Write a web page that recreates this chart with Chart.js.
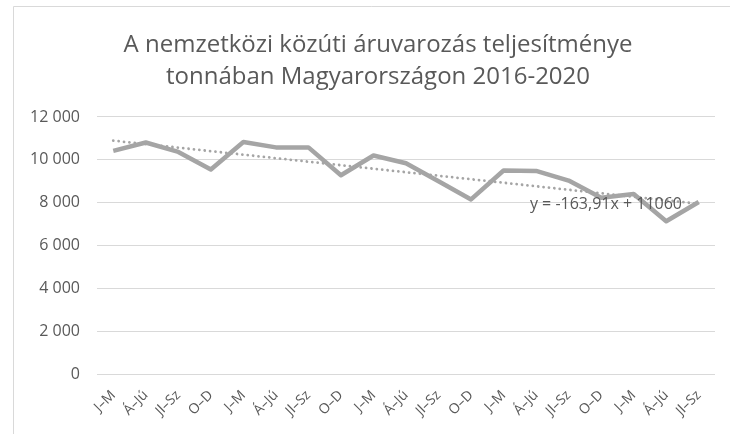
<!DOCTYPE html>
<html>
<head>
<meta charset="utf-8">
<script src="https://cdn.jsdelivr.net/npm/chart.js@4.4.1/dist/chart.umd.min.js"></script>
<style>
  html, body { margin: 0; padding: 0; background: #fff; }
  #wrap { width: 730px; height: 434px; }
</style>
</head>
<body>
<div id="wrap"><canvas id="chart" width="730" height="434"></canvas></div>
<script>
// quarterly periods 2016 Q1 .. 2020 Q3
const quarters = ['J–M', 'Á–Jú', 'Jl–Sz', 'O–D',
                  'J–M', 'Á–Jú', 'Jl–Sz', 'O–D',
                  'J–M', 'Á–Jú', 'Jl–Sz', 'O–D',
                  'J–M', 'Á–Jú', 'Jl–Sz', 'O–D',
                  'J–M', 'Á–Jú', 'Jl–Sz'];
const tonnes = [10420, 10810, 10370, 9550,
                10830, 10580, 10580, 9280,
                10200, 9840, 9000, 8150,
                9500, 9480, 9030, 8230,
                8400, 7130, 8030];
const yTicks = [0, 2000, 4000, 6000, 8000, 10000, 12000];

// linear trend as printed on the chart
const trendSlope = -163.91;
const trendIntercept = 11060;
const trendLabel = 'y = -163,91x + 11060';
const trend = quarters.map((q, i) => trendIntercept + trendSlope * (i + 1));

const grey = '#a5a5a5';
const textGrey = '#595959';
const font = "'Open Sans', sans-serif";

// plot box: left edge 97, right edge 715, bottom 374
const padLeft = 27;
const plotLeft = 97;
const plotRight = 715;
const plotBottom = 374;

const frame = {
  id: 'frame',
  beforeDraw(chart) {
    const c = chart.ctx;
    c.save();
    c.strokeStyle = '#d9d9d9';
    c.lineWidth = 1;
    c.beginPath();
    c.moveTo(730, 6.5);
    c.lineTo(13.5, 6.5);
    c.lineTo(13.5, 434);
    c.stroke();
    c.restore();
  }
};

const trendText = {
  id: 'trendText',
  afterDatasetsDraw(chart) {
    const c = chart.ctx;
    const a = chart.chartArea;
    c.save();
    c.font = '16px ' + font;
    c.fillStyle = textGrey;
    c.textAlign = 'right';
    c.textBaseline = 'middle';
    c.fillText(trendLabel, a.right - 33, chart.scales.y.getPixelForValue(7930));
    c.restore();
  }
};

new Chart(document.getElementById('chart'), {
  type: 'line',
  data: {
    labels: quarters,
    datasets: [
      {
        data: tonnes,
        borderColor: grey,
        borderWidth: 4.5,
        borderJoinStyle: 'round',
        pointRadius: 0,
        tension: 0,
        order: 2
      },
      {
        data: trend,
        borderColor: grey,
        borderWidth: 2.8,
        borderDash: [0.01, 5.4],
        borderCapStyle: 'round',
        pointRadius: 0,
        tension: 0,
        order: 1
      }
    ]
  },
  options: {
    responsive: false,
    animation: false,
    devicePixelRatio: 1,
    layout: { padding: { left: padLeft, right: 1, top: 0, bottom: 0 } },
    plugins: {
      legend: { display: false },
      tooltip: { enabled: false },
      title: {
        display: true,
        text: ['A nemzetközi közúti áruvarozás teljesítménye', 'tonnában Magyarországon 2016-2020'],
        color: textGrey,
        font: { family: font, size: 24, weight: 'normal', lineHeight: 1.333 },
        padding: { top: 29, bottom: 24 }
      }
    },
    scales: {
      x: {
        offset: true,
        grid: { display: false },
        border: { display: false },
        afterFit(scale) { scale.height = 434 - plotBottom; },
        ticks: {
          color: textGrey,
          font: { family: font, size: 14 },
          minRotation: 45,
          maxRotation: 45,
          autoSkip: false,
          padding: 5
        }
      },
      y: {
        min: 0,
        max: 12000,
        afterBuildTicks(scale) { scale.ticks = yTicks.map(v => ({ value: v })); },
        afterFit(scale) { scale.width = plotLeft - padLeft; },
        grid: { color: '#d9d9d9', lineWidth: 1, drawTicks: false },
        border: { display: false },
        ticks: {
          color: textGrey,
          font: { family: font, size: 16 },
          padding: 17,
          callback: v => String(v).replace(/\B(?=(\d{3})+(?!\d))/g, ' ')
        }
      },
      // empty right-hand margin so the plot stops short of the frame edge
      gap: {
        position: 'right',
        grid: { display: false },
        border: { display: false },
        ticks: { display: false },
        afterFit(scale) { scale.width = 729 - plotRight; }
      }
    }
  },
  plugins: [frame, trendText]
});
</script>
</body>
</html>
